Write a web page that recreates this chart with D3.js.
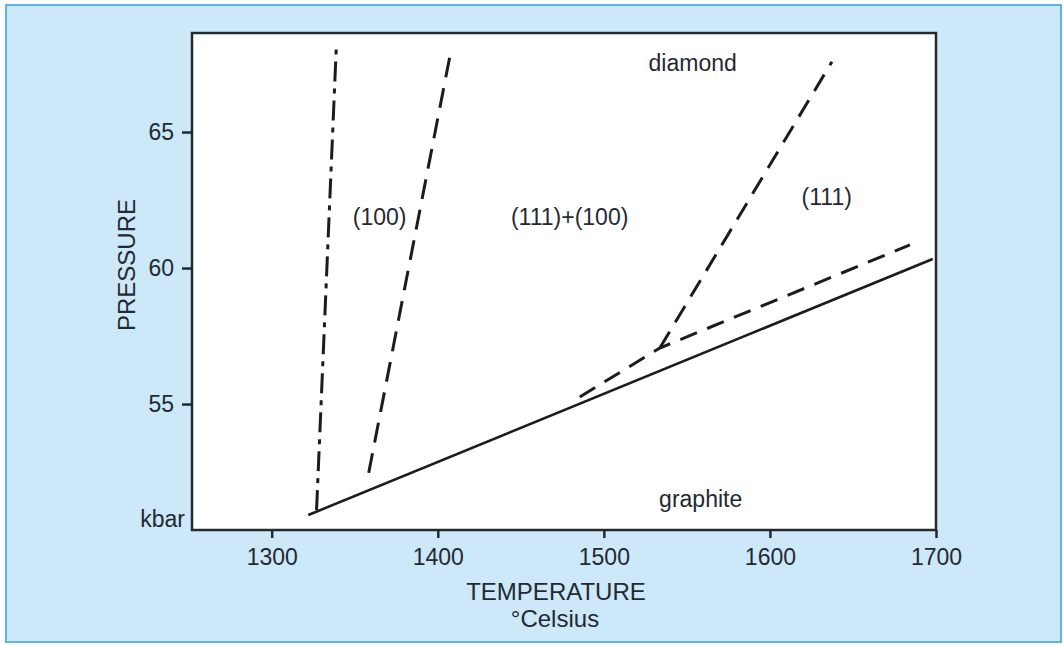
<!DOCTYPE html>
<html>
<head>
<meta charset="utf-8">
<script src="https://cdn.jsdelivr.net/npm/d3@7"></script>
<style>
  html, body { margin: 0; padding: 0; background: #ffffff; }
  svg { display: block; }
  text { font-family: "Liberation Sans", Arial, Helvetica, sans-serif; fill: #1f2a33; }
</style>
</head>
<body>
<svg id="chart" width="1063" height="645"></svg>
<script>
// Axis ticks
const temperatureTicks = [1300, 1400, 1500, 1600, 1700];
const pressureTicks = [55, 60, 65];

// Phase boundaries: [temperature °C, pressure kbar]
const graphiteDiamond = [[1322, 50.92], [1698, 60.33]];          // solid
const habitLimitDashDot = [[1327, 51.1], [1339, 68.27]];         // dash-dot
const cubeBoundary = [[1358.4, 52.47], [1407.2, 67.76]];         // (100) | (111)+(100)
const octaBoundary = [[1533.7, 57.06], [1637.3, 67.58]];         // (111)+(100) | (111)
const lowerBoundary = [[1485.5, 55.26], [1533.7, 57.06], [1684.3, 60.85]];

// Region labels: [text, temperature, pressure]
const regionLabels = [
  ["diamond", 1553.5, 67.25],
  ["(100)", 1365, 61.58],
  ["(111)+(100)", 1479.4, 61.58],
  ["(111)", 1634.2, 62.32],
  ["graphite", 1558.3, 51.22]
];

const svg = d3.select("#chart");

// Panel background with blue edge
svg.append("rect")
  .attr("x", 6).attr("y", 5).attr("width", 1055).attr("height", 637)
  .attr("fill", "#cde8f8")
  .attr("stroke", "#5ab6ea").attr("stroke-width", 2);

const x = d3.scaleLinear().domain([1252, 1700]).range([192, 936]);
const y = d3.scaleLinear().domain([50.37, 68.64]).range([530, 33]);

// Plot area
svg.append("rect")
  .attr("x", x.range()[0]).attr("y", y.range()[1])
  .attr("width", x.range()[1] - x.range()[0])
  .attr("height", y.range()[0] - y.range()[1])
  .attr("fill", "#ffffff");

// Axes
const xAxis = svg.append("g")
  .attr("transform", `translate(0,${y.range()[0]})`)
  .call(d3.axisBottom(x).tickValues(temperatureTicks).tickSize(8).tickPadding(11).tickFormat(d3.format("d")));
const yAxis = svg.append("g")
  .attr("transform", `translate(${x.range()[0]},0)`)
  .call(d3.axisLeft(y).tickValues(pressureTicks).tickSize(10).tickPadding(8).tickFormat(d3.format("d")));

[xAxis, yAxis].forEach(g => {
  g.select(".domain").remove();
  g.selectAll(".tick line").attr("stroke", "#222a30").attr("stroke-width", 2.5);
  g.selectAll(".tick text")
    .attr("fill", "#1f2a33")
    .style("font-size", "23px")
    .style("font-family", "'Liberation Sans', Arial, Helvetica, sans-serif");
});
yAxis.selectAll(".tick text").attr("dy", "0.34em");

// Frame
svg.append("rect")
  .attr("x", x.range()[0]).attr("y", y.range()[1])
  .attr("width", x.range()[1] - x.range()[0])
  .attr("height", y.range()[0] - y.range()[1])
  .attr("fill", "none")
  .attr("stroke", "#222a30").attr("stroke-width", 2.5);

// Boundary lines
const line = d3.line().x(d => x(d[0])).y(d => y(d[1]));
const drawLine = (data, dash, width) => svg.append("path")
  .datum(data)
  .attr("d", line)
  .attr("fill", "none")
  .attr("stroke", "#1c1c1c")
  .attr("stroke-width", width)
  .attr("stroke-dasharray", dash);

drawLine(graphiteDiamond, null, 2.6);
drawLine(habitLimitDashDot, "20 7 5 7", 3);
drawLine(cubeBoundary, "20 11", 3);
drawLine(octaBoundary, "19 11", 3);
drawLine(lowerBoundary, "18 11", 3);

// Region labels
svg.append("g").selectAll("text")
  .data(regionLabels)
  .join("text")
  .attr("x", d => x(d[1]))
  .attr("y", d => y(d[2]))
  .attr("text-anchor", "middle")
  .style("font-size", "23px")
  .text(d => d[0]);

// Axis titles
svg.append("text")
  .attr("transform", `translate(135,265) rotate(-90)`)
  .attr("text-anchor", "middle")
  .style("font-size", "24px")
  .text("PRESSURE");

svg.append("text")
  .attr("x", 185).attr("y", 527)
  .attr("text-anchor", "end")
  .style("font-size", "23px")
  .text("kbar");

svg.append("text")
  .attr("x", 556).attr("y", 600)
  .attr("text-anchor", "middle")
  .style("font-size", "24px")
  .text("TEMPERATURE");

svg.append("text")
  .attr("x", 555).attr("y", 627)
  .attr("text-anchor", "middle")
  .style("font-size", "24px")
  .text("°Celsius");
</script>
</body>
</html>
